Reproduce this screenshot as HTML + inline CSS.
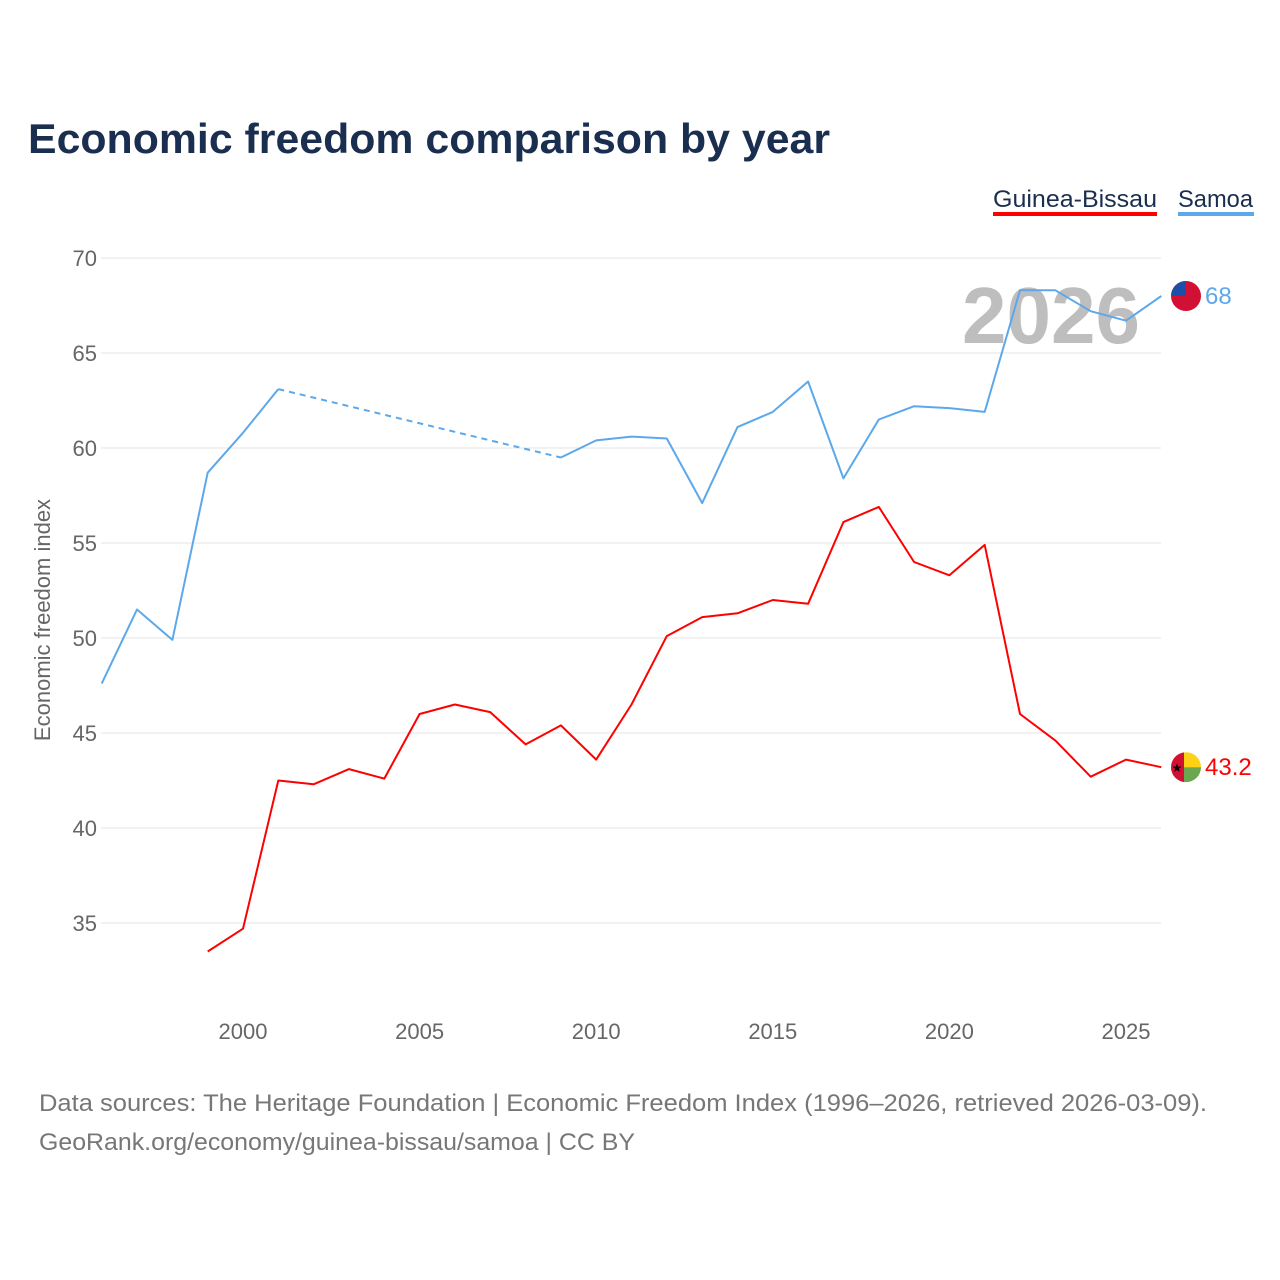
<!DOCTYPE html>
<html><head><meta charset="utf-8"><style>
html,body{margin:0;padding:0;background:#fff;width:1280px;height:1280px;overflow:hidden}
text{font-family:"Liberation Sans",sans-serif}
</style></head><body>
<svg id="chart" width="1280" height="1280" viewBox="0 0 1280 1280">
<text x="28" y="153" font-size="42" font-weight="bold" fill="#1a2e50" textLength="802" lengthAdjust="spacingAndGlyphs">Economic freedom comparison by year</text>
<g>
<g>
<text x="993" y="207" font-size="24" fill="#1a2e50" textLength="164" lengthAdjust="spacingAndGlyphs">Guinea-Bissau</text>
<rect x="993" y="212" width="164" height="4" fill="#ff0000"/></g>
<g>
<text x="1178" y="207" font-size="24" fill="#1a2e50" textLength="75" lengthAdjust="spacingAndGlyphs">Samoa</text>
<rect x="1178" y="212" width="76" height="4" fill="#5ca8ea"/></g>
</g>
<g id="grid"></g>
<text x="1140" y="343" font-size="80" font-weight="bold" fill="#a8a8a8" fill-opacity="0.75" text-anchor="end">2026</text>
<g id="axes"></g>
<g id="series"></g>
<text transform="translate(50,620) rotate(-90)" font-size="22" fill="#666" text-anchor="middle">Economic freedom index</text>
<text x="39" y="1111" font-size="24" fill="#777" textLength="1168" lengthAdjust="spacingAndGlyphs">Data sources: The Heritage Foundation | Economic Freedom Index (1996–2026, retrieved 2026-03-09).</text>
<text x="39" y="1150" font-size="24" fill="#777" textLength="596" lengthAdjust="spacingAndGlyphs">GeoRank.org/economy/guinea-bissau/samoa | CC BY</text>
</svg>
<script>
const years=[1996,1997,1998,1999,2000,2001,2002,2003,2004,2005,2006,2007,2008,2009,2010,2011,2012,2013,2014,2015,2016,2017,2018,2019,2020,2021,2022,2023,2024,2025,2026];
const samoa=[47.6,51.5,49.9,58.7,60.8,63.1,null,null,null,null,null,null,null,59.5,60.4,60.6,60.5,57.1,61.1,61.9,63.5,58.4,61.5,62.2,62.1,61.9,68.3,68.3,67.2,66.7,68.0];
const guinea=[null,null,null,33.5,34.7,42.5,42.3,43.1,42.6,46.0,46.5,46.1,44.4,45.4,43.6,46.5,50.1,51.1,51.3,52.0,51.8,56.1,56.9,54.0,53.3,54.9,46.0,44.6,42.7,43.6,43.2];
const yTicks=[35,40,45,50,55,60,65,70];
const xTicks=[2000,2005,2010,2015,2020,2025];
const NS="http://www.w3.org/2000/svg";
const X=y=>243+(y-2000)*35.32;
const Y=v=>258+(70-v)*19;
function mk(tag,attrs,parent){const e=document.createElementNS(NS,tag);for(const k in attrs)e.setAttribute(k,attrs[k]);parent.appendChild(e);return e;}
const grid=document.getElementById('grid'),axes=document.getElementById('axes'),ser=document.getElementById('series');
yTicks.forEach(v=>{
 const l=mk('line',{x1:101,x2:1161,y1:Y(v),y2:Y(v),stroke:'#e6e6e6','stroke-width':1},grid);
 
 
 const t=mk('text',{x:97,y:Y(v)+8,'font-size':22,fill:'#666','text-anchor':'end'},axes);t.textContent=v;
 
 
});
xTicks.forEach(y=>{
 const t=mk('text',{x:X(y),y:1039,'font-size':22,fill:'#666','text-anchor':'middle'},axes);t.textContent=y;
 
 
});
function draw(vals,color,name){
 const g=mk('g',{},ser);
 
 
 let solid='',dash='',prev=null,gap=false;
 vals.forEach((v,i)=>{
  if(v==null){if(prev)gap=true;return;}
  const p=X(years[i]).toFixed(1)+','+Y(v).toFixed(1);
  if(!prev){solid+='M'+p;}
  else if(gap){dash+='M'+prev+'L'+p;solid+='M'+p;}
  else solid+='L'+p;
  prev=p;gap=false;
 });
 const a=mk('path',{d:solid,fill:'none',stroke:color,'stroke-width':2,'stroke-linejoin':'round'},g);
 
 
 if(dash){const b=mk('path',{d:dash,fill:'none',stroke:color,'stroke-width':2,'stroke-dasharray':'6,5'},g);
 
 }
 const last=vals[vals.length-1],cy=Y(last),cx=1186;
 const f=mk('g',{},g);
 
 
 mk('clipPath',{id:'c'+name},f);
 mk('circle',{cx:cx,cy:cy,r:15},f.lastChild);
 const fg=mk('g',{'clip-path':'url(#c'+name+')'},f);
 if(name==='samoa'){
  mk('rect',{x:cx-15,y:cy-15,width:30,height:30,fill:'#d21034'},fg);
  mk('rect',{x:cx-15,y:cy-15,width:15,height:15,fill:'#1e4fa6'},fg);
 }else{
  mk('rect',{x:cx-15,y:cy-15,width:30,height:15,fill:'#fcd116'},fg);
  mk('rect',{x:cx-15,y:cy,width:30,height:15,fill:'#6aa84f'},fg);
  mk('rect',{x:cx-15,y:cy-15,width:13,height:30,fill:'#d21034'},fg);
  const s=mk('text',{x:cx-9,y:cy+5,'font-size':12,fill:'#000','text-anchor':'middle'},fg);s.textContent='★';
 }
 const t=mk('text',{x:1205,y:cy+8,'font-size':24,fill:color},g);t.textContent=String(last).replace(/\.0$/,'');
 
 
}
draw(guinea,'#ff0000','guinea-bissau');
draw(samoa,'#5ca8ea','samoa');
</script>
</body></html>
